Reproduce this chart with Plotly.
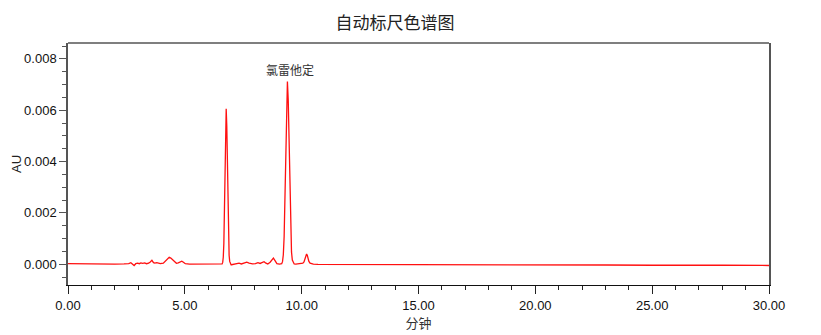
import plotly.graph_objects as go

# Chromatogram trace (retention time in minutes, absorbance AU)
time_min = [0.0, 0.5, 1.0, 1.5, 2.0, 2.4, 2.6, 2.69, 2.76, 2.83, 2.9, 2.98, 3.05, 3.12, 3.2, 3.28,
            3.36, 3.45, 3.52, 3.59, 3.66, 3.72, 3.8, 3.95, 4.08, 4.18, 4.26, 4.33, 4.4, 4.48, 4.56,
            4.64, 4.72, 4.8, 4.87, 4.94, 5.02, 5.2, 5.6, 6.0, 6.4, 6.55,
            6.595, 6.62, 6.645, 6.67, 6.695, 6.72, 6.745, 6.77, 6.795, 6.82, 6.845, 6.87, 6.895,
            6.92, 6.95, 6.98, 7.0,
            7.1, 7.2, 7.32, 7.42, 7.55, 7.65, 7.75, 7.9, 8.02, 8.13, 8.22, 8.3, 8.39, 8.47, 8.55,
            8.65, 8.72, 8.79, 8.86, 8.94, 9.05, 9.13,
            9.145, 9.18, 9.215, 9.25, 9.285, 9.32, 9.355, 9.39, 9.425, 9.46, 9.495, 9.53, 9.565,
            9.6, 9.64, 9.68,
            9.75, 9.85, 9.95, 10.05, 10.1, 10.15, 10.18, 10.21, 10.24, 10.27, 10.31, 10.36, 10.42,
            10.5, 10.7, 11.0, 12.0, 13.0, 14.0, 15.0, 17.0, 19.0, 21.0, 23.0, 25.0, 26.0, 27.0,
            28.0, 29.0, 30.0]
absorbance_au = [0.00002, 0.00001, 0.00001, 0.0, 0.0, 0.00001, 0.00002, 0.00006, 0.00001, -0.00005,
                 0.00002, 0.00004, 0.00002, 0.00005, 0.00003, 0.00005,
                 0.00002, 0.00004, 0.00009, 0.00015, 0.00006, 0.00004, 0.00006, 0.00002, 0.00004,
                 0.00014, 0.00024, 0.00027, 0.00024, 0.00016, 0.00008,
                 0.00004, 0.00005, 0.0001, 0.00012, 0.00008, 0.00002, 0.0, 0.0, 0.0, 0.0, 0.00001,
                 0.00001, 0.00007, 0.00027, 0.00082, 0.00197, 0.00368, 0.00535, 0.00606, 0.00540,
                 0.00380, 0.00212, 0.00095, 0.00035,
                 0.00011, 0.00002, -0.00002, -0.00002,
                 0.0, 0.00002, 0.00004, 0.00001, 0.00005, 0.00008, 0.00004, 0.00001, 0.00002,
                 0.00006, 0.00003, 0.00005, 0.0001, 0.00004, 0.00001,
                 0.00008, 0.00018, 0.00024, 0.00014, 0.00002, 0.0, 0.00001,
                 0.00002, 0.0001, 0.00037, 0.00108, 0.00246, 0.00444, 0.00633, 0.00712, 0.00640,
                 0.00460, 0.00265, 0.00124, 0.00048,
                 0.00016, 0.00005, 0.00001,
                 0.0, 0.00001, 0.00002, 0.00004, 0.00009, 0.00022, 0.00034, 0.0004, 0.00035,
                 0.00024, 0.00011, 0.00004, 0.00001,
                 0.0, -0.00001, -0.00001, -0.00001, -0.00002, -0.00002, -0.00002, -0.00002,
                 -0.00003, -0.00003, -0.00003, -0.00004, -0.00005, -0.00004,
                 -0.00004, -0.00005, -0.00005]

# Peak label
peak_names = ["氯雷他定"]
peak_label_x = [9.5]
peak_label_y = [0.00758]

x_tick_vals = [0, 5, 10, 15, 20, 25, 30]
y_tick_vals = [0.0, 0.002, 0.004, 0.006, 0.008]

cjk = "Noto Sans CJK SC"
latin = "Liberation Sans, Arial"

fig = go.Figure()
fig.add_trace(go.Scatter(x=time_min, y=absorbance_au, mode="lines",
                         line=dict(color="#ff1010", width=1.3), showlegend=False,
                         hoverinfo="x+y"))

for name, px, py in zip(peak_names, peak_label_x, peak_label_y):
    fig.add_annotation(x=px, y=py, text=name, showarrow=False,
                       font=dict(family=cjk, size=12, color="#333333"),
                       xanchor="center", yanchor="middle")

fig.update_layout(
    width=821, height=335,
    margin=dict(l=68, r=52, t=43, b=50),
    paper_bgcolor="white", plot_bgcolor="white",
    title=dict(text="自动标尺色谱图", x=0.481, xref="container", xanchor="center",
               y=0.931, yref="container", yanchor="middle",
               font=dict(family=cjk, size=17, color="#222222")),
    xaxis=dict(range=[0, 30], tickvals=x_tick_vals, tickformat=".2f",
               showgrid=False, zeroline=False, automargin=False,
               showline=True, linecolor="#111111", linewidth=1,
               ticks="outside", ticklen=8, tickcolor="#222222", tickwidth=1,
               minor=dict(dtick=1, ticks="outside", ticklen=4, tickcolor="#222222"),
               tickfont=dict(family=latin, size=13, color="#111111"),
               title=dict(text="分钟", standoff=1,
                          font=dict(family=cjk, size=13, color="#333333"))),
    yaxis=dict(range=[-0.00081, 0.00862], tickvals=y_tick_vals, tickformat=".3f",
               showgrid=False, zeroline=False, automargin=False,
               showline=True, linecolor="#555555", linewidth=1.5, mirror=True,
               ticks="outside", ticklen=7, tickcolor="#555555", tickwidth=1,
               minor=dict(dtick=0.0005, ticks="outside", ticklen=4, tickcolor="#555555"),
               tickfont=dict(family=latin, size=13, color="#111111"),
               title=dict(text="AU", standoff=0,
                          font=dict(family=latin, size=13, color="#222222"))),
)

# top frame line
fig.add_shape(type="line", xref="paper", yref="paper", x0=0, x1=1, y0=1, y1=1,
              line=dict(color="#555555", width=1.5))

fig.write_html("out.html")
